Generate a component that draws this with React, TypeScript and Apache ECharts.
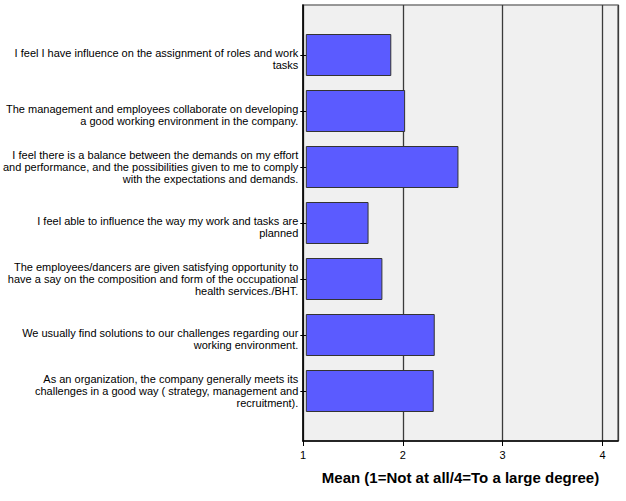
import React, { useEffect, useRef } from "react";
import * as echarts from "echarts";

const categories: string[] = [
  "I feel I have influence on the assignment of roles and work\ntasks",
  "The management and employees collaborate on developing\na good working environment in the company.",
  "I feel there is a balance between the demands on my effort\nand performance, and the possibilities given to me to comply\nwith the expectations and demands.",
  "I feel able to influence the way my work and tasks are\nplanned",
  "The employees/dancers are given satisfying opportunity to\nhave a say on the composition and form of the occupational\nhealth services./BHT.",
  "We usually find solutions to our challenges regarding our\nworking environment.",
  "As an organization, the company generally meets its\nchallenges in a good way ( strategy, management and\nrecruitment).",
];

const means: number[] = [1.86, 2.0, 2.54, 1.63, 1.77, 2.3, 2.29];

const xAxisName = "Mean (1=Not at all/4=To a large degree)";

export default function App() {
  const ref = useRef<HTMLDivElement>(null);
  useEffect(() => {
    if (!ref.current) return;
    const chart = echarts.init(ref.current, undefined, { renderer: "svg" });
    const font = "Arial, 'Liberation Sans', sans-serif";
    const labelFormatter = (value: string) => {
      const lines = value.split("\n");
      const body = lines.map((l) => `{n|${l}}`).join("\n");
      if (lines.length === 2) {
        return `{s| }\n${body}`;
      }
      return body;
    };
    chart.setOption({
      animation: false,
      backgroundColor: "#ffffff",
      grid: [
        {
          left: 303,
          top: 5,
          width: 315,
          height: 436,
          show: true,
          backgroundColor: "#f0f0f0",
          borderColor: "#777777",
          borderWidth: 1.5,
        },
        {
          left: 303,
          top: 27,
          width: 315,
          height: 392,
        },
      ],
      xAxis: [
        {
          gridIndex: 0,
          type: "value",
          min: 1,
          max: 4.155,
          interval: 1,
          axisLine: { show: true, lineStyle: { color: "#000", width: 1.5 } },
          axisTick: { show: true, length: 5, lineStyle: { color: "#000" } },
          axisLabel: { color: "#000", fontSize: 11, fontFamily: font, margin: 8 },
          splitLine: { show: true, lineStyle: { color: "#3a3a3a", width: 1.3 } },
          name: xAxisName,
          nameLocation: "middle",
          nameGap: 29,
          nameTextStyle: { color: "#000", fontSize: 15, fontWeight: "bold", fontFamily: font },
        },
        {
          gridIndex: 1,
          type: "value",
          min: 1,
          max: 4.155,
          interval: 1,
          show: false,
        },
      ],
      yAxis: [
        {
          gridIndex: 0,
          type: "value",
          min: 0,
          max: 1,
          axisLine: { show: true, lineStyle: { color: "#000", width: 1.5 } },
          axisTick: { show: false },
          axisLabel: { show: false },
          splitLine: { show: false },
        },
        {
          gridIndex: 1,
          type: "category",
          inverse: true,
          data: categories,
          axisLine: { show: false },
          axisTick: { show: true, alignWithLabel: true, length: 6, lineStyle: { color: "#000" } },
          axisLabel: {
            color: "#000",
            fontSize: 11,
            fontFamily: font,
            align: "right",
            lineHeight: 12,
            margin: 8,
            interval: 0,
            formatter: labelFormatter,
            rich: {
              s: { fontSize: 6, fontFamily: font, color: "#000", lineHeight: 7, height: 7 },
              n: { fontSize: 11, fontFamily: font, color: "#000", lineHeight: 12 },
            },
          },
        },
      ],
      series: [
        {
          type: "bar",
          xAxisIndex: 1,
          yAxisIndex: 1,
          data: means,
          barWidth: 42,
          itemStyle: { color: "#5b5bff", borderColor: "#333333", borderWidth: 1 },
        },
      ],
    });
    return () => chart.dispose();
  }, []);
  return <div ref={ref} style={{ width: 626, height: 501, position: "absolute", left: 0, top: 0 }} />;
}
